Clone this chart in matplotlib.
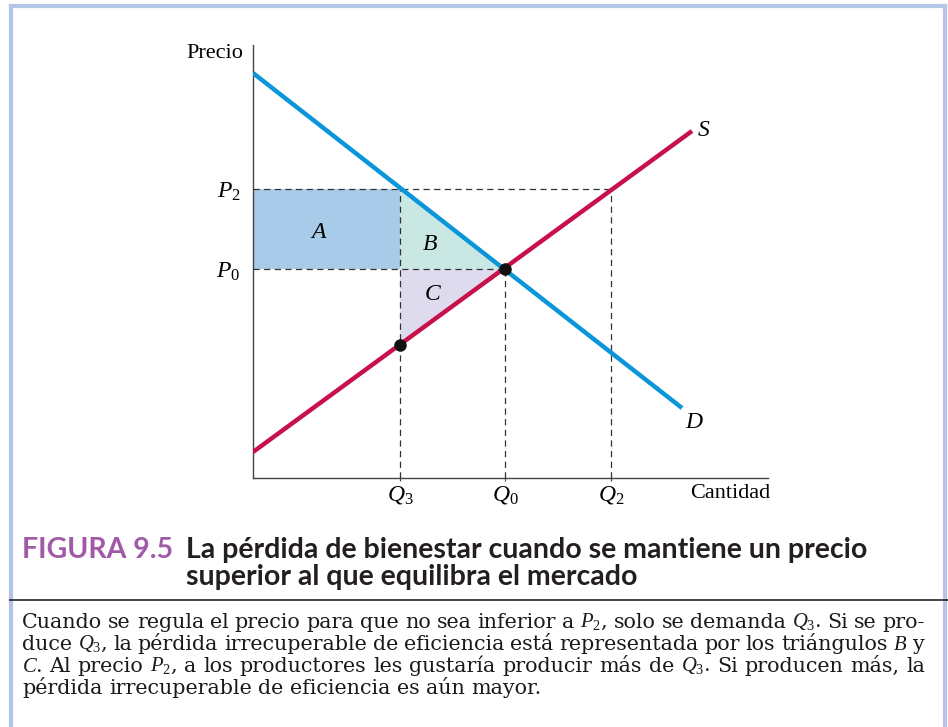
import matplotlib
matplotlib.use("Agg")
import numpy as np
import matplotlib.pyplot as plt
from matplotlib.lines import Line2D

# curve endpoints (quantity, price)
q_demand = [0.0, 42.9]
p_demand = [40.5, 7.0]
q_supply = [0.0, 43.9]
p_supply = [2.6, 34.7]

# key quantities and prices
Q3, Q0, Q2 = 14.7, 25.2, 35.8
P2, P0 = 28.9, 20.9

q_ticks = [Q3, Q0, Q2]
q_labels = ["$Q_3$", "$Q_0$", "$Q_2$"]
p_ticks = [P2, P0]
p_labels = ["$P_2$", "$P_0$"]

title_tag = "FIGURA 9.5"
title_lines = ["La pérdida de bienestar cuando se mantiene un precio",
               "superior al que equilibra el mercado"]
caption_lines = [
    "Cuando se regula el precio para que no sea inferior a $P_2$, solo se demanda $Q_3$. Si se pro-",
    "duce $Q_3$, la pérdida irrecuperable de eficiencia está representada por los triángulos $B$ y",
    "$C$. Al precio $P_2$, a los productores les gustaría producir más de $Q_3$. Si producen más, la",
    "pérdida irrecuperable de eficiencia es aún mayor.",
]

plt.rcParams["font.family"] = "Liberation Serif"
plt.rcParams["mathtext.fontset"] = "custom"
plt.rcParams["mathtext.rm"] = "Liberation Serif"
plt.rcParams["mathtext.it"] = "Liberation Serif:italic"

W, H = 948, 727
fig = plt.figure(figsize=(W / 100, H / 100), dpi=100)

# axes placed in pixel terms
ax_l, ax_r, ax_t, ax_b = 253, 768, 45, 478
ax = fig.add_axes([ax_l / W, 1 - ax_b / H, (ax_r - ax_l) / W, (ax_b - ax_t) / H])
ax.set_xlim(0, 51.5)
ax.set_ylim(0, 43.3)
for side in ["top", "right"]:
    ax.spines[side].set_visible(False)
for side in ["left", "bottom"]:
    ax.spines[side].set_color("#444444")
    ax.spines[side].set_linewidth(1.0)

blue = "#0a96d8"
red = "#c8104a"
dash = dict(color="#333333", lw=0.9, dashes=(5, 3.5), zorder=3)

p_s_q3 = np.interp(Q3, q_supply, p_supply)

# shaded areas
ax.fill([0, Q3, Q3, 0], [P0, P0, P2, P2], color="#a9cbea", lw=0, zorder=1)
ax.fill([Q3, Q3, Q0], [P2, P0, P0], color="#c9e8e3", lw=0, zorder=1)
ax.fill([Q3, Q0, Q3], [P0, P0, p_s_q3], color="#dedbef", lw=0, zorder=1)

# dashed guides
ax.plot([0, Q2], [P2, P2], **dash)
ax.plot([0, Q0], [P0, P0], **dash)
ax.plot([Q3, Q3], [0, P2], **dash)
ax.plot([Q0, Q0], [0, P0], **dash)
ax.plot([Q2, Q2], [0, P2], **dash)

# curves
ax.plot(q_demand, p_demand, color=blue, lw=3.2, solid_capstyle="butt", zorder=4)
ax.plot(q_supply, p_supply, color=red, lw=3.2, solid_capstyle="butt", zorder=4)

# points
ax.plot([Q0, Q3], [P0, p_s_q3], "o", color="#111111", ms=8, zorder=5)

ax.set_xticks(q_ticks)
ax.set_xticklabels(q_labels, fontsize=17)
ax.set_yticks(p_ticks)
ax.set_yticklabels(p_labels, fontsize=17)
ax.tick_params(axis="x", length=5, direction="inout", color="#444444", pad=2)
ax.tick_params(axis="y", length=0, pad=9)

ax.text(-1.0, 42.5, "Precio", ha="right", va="center", fontsize=16)
ax.text(51.7, -1.5, "Cantidad", ha="right", va="center", fontsize=16)
ax.text(q_supply[1] + 0.5, p_supply[1], "$S$", ha="left", va="center", fontsize=17)
ax.text(q_demand[1] + 0.3, p_demand[1] - 1.4, "$D$", ha="left", va="center", fontsize=17)
ax.text(6.6, 24.6, "$A$", ha="center", va="center", fontsize=17)
ax.text(17.7, 23.3, "$B$", ha="center", va="center", fontsize=17)
ax.text(18.0, 18.3, "$C$", ha="center", va="center", fontsize=17)

# frame and separator
frame = "#b4c6e8"
fig.add_artist(Line2D([11 / W, 11 / W], [0, 1 - 6 / H], transform=fig.transFigure, color=frame, lw=3))
fig.add_artist(Line2D([11 / W, 945 / W], [1 - 6 / H, 1 - 6 / H], transform=fig.transFigure, color=frame, lw=3))
fig.add_artist(Line2D([945 / W, 945 / W], [0, 1 - 6 / H], transform=fig.transFigure, color=frame, lw=3))
fig.add_artist(Line2D([10 / W, 1], [1 - 600 / H, 1 - 600 / H], transform=fig.transFigure, color="#222222", lw=1.2))

# title
tfont = dict(family="Lato", weight="bold", fontsize=20.5)
fig.text(22 / W, 1 - 550 / H, title_tag, color="#a05aa8", va="center", ha="left", **tfont)
fig.text(186 / W, 1 - 550 / H, title_lines[0], color="#231f20", va="center", ha="left", **tfont)
fig.text(186 / W, 1 - 577 / H, title_lines[1], color="#231f20", va="center", ha="left", **tfont)


def justified(text, x0, x1, y, stretch, **kw):
    # place words one by one, spreading the spare room over the gaps
    renderer = fig.canvas.get_renderer()
    words = text.split(" ")
    arts, widths = [], []
    for w in words:
        t = fig.text(0, 1 - y / H, w, ha="left", va="center", **kw)
        arts.append(t)
        widths.append(t.get_window_extent(renderer).width)
    if stretch:
        gap = (x1 - x0 - sum(widths)) / (len(words) - 1)
    else:
        sp = fig.text(0, 0, "a a", **kw)
        sp2 = fig.text(0, 0, "aa", **kw)
        gap = sp.get_window_extent(renderer).width - sp2.get_window_extent(renderer).width
        sp.remove()
        sp2.remove()
    x = x0
    for t, w in zip(arts, widths):
        t.set_x(x / W)
        x += w + gap


# caption
cfont = dict(family="DejaVu Serif", fontsize=14.85, color="#1a1a1a")
for i, line in enumerate(caption_lines):
    justified(line, 22, 925, 622 + 22 * i, i < len(caption_lines) - 1, **cfont)

fig.savefig("out.png", dpi=100)
